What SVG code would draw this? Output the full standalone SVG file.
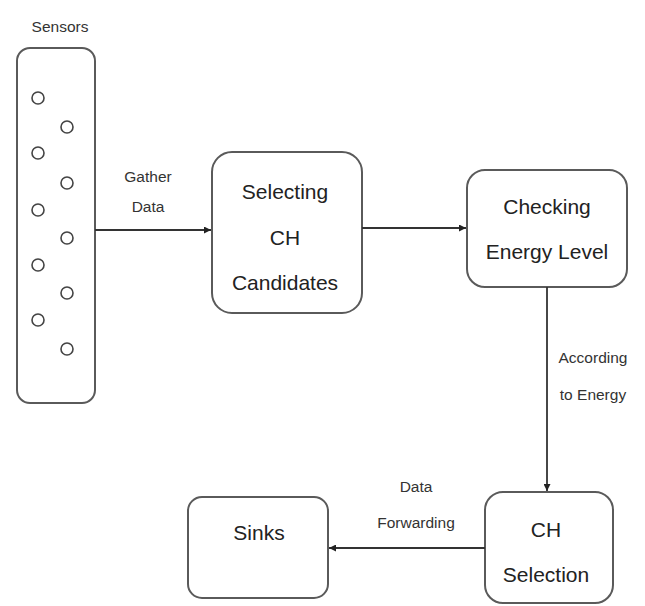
<svg xmlns="http://www.w3.org/2000/svg" width="645" height="606" viewBox="0 0 645 606">
<style>
.box{fill:#fff;stroke:#5a5a5a;stroke-width:2}
.dot{fill:#fff;stroke:#444;stroke-width:1.6}
.lbl{font-family:"Liberation Sans",Arial,sans-serif;font-size:21px;fill:#222;text-anchor:middle}
.sm{font-family:"Liberation Sans",Arial,sans-serif;font-size:15.5px;fill:#333;text-anchor:middle}
.edge{stroke:#333;stroke-width:1.8;fill:none;marker-end:url(#ah)}
</style>
<defs>
<marker id="ah" viewBox="0 0 10 10" refX="10" refY="5" markerWidth="7" markerHeight="7" orient="auto" markerUnits="userSpaceOnUse">
<path d="M0,0 L10,5 L0,10 z" fill="#222"/>
</marker>
</defs>
<rect width="645" height="606" fill="#fff"/>
<g id="sensors">
<text class="sm" x="60" y="32">Sensors</text>
<rect class="box" x="17" y="48" width="78" height="355" rx="13"/>
<circle class="dot" cx="38" cy="98" r="6"/>
<circle class="dot" cx="38" cy="153" r="6"/>
<circle class="dot" cx="38" cy="210" r="6"/>
<circle class="dot" cx="38" cy="265" r="6"/>
<circle class="dot" cx="38" cy="320" r="6"/>
<circle class="dot" cx="67" cy="127" r="6"/>
<circle class="dot" cx="67" cy="183" r="6"/>
<circle class="dot" cx="67" cy="238" r="6"/>
<circle class="dot" cx="67" cy="293" r="6"/>
<circle class="dot" cx="67" cy="349" r="6"/>
</g>
<g id="selecting">
<rect class="box" x="212" y="152" width="150" height="161" rx="20"/>
<text class="lbl" x="285" y="199">Selecting</text>
<text class="lbl" x="285" y="245">CH</text>
<text class="lbl" x="285" y="290">Candidates</text>
</g>
<g id="checking">
<rect class="box" x="467" y="170" width="160" height="117" rx="18"/>
<text class="lbl" x="547" y="214">Checking</text>
<text class="lbl" x="547" y="259">Energy Level</text>
</g>
<g id="chselection">
<rect class="box" x="485" y="492" width="128" height="111" rx="18"/>
<text class="lbl" x="546" y="537">CH</text>
<text class="lbl" x="546" y="582">Selection</text>
</g>
<g id="sinks">
<rect class="box" x="188" y="497" width="140" height="101" rx="14"/>
<text class="lbl" x="259" y="540">Sinks</text>
</g>
<g id="connectors">
<line class="edge" x1="95" y1="230" x2="211" y2="230"/>
<line class="edge" x1="362" y1="228" x2="466" y2="228"/>
<line class="edge" x1="547" y1="287" x2="547" y2="491"/>
<line class="edge" x1="485" y1="548" x2="329" y2="548"/>
<text class="sm" x="148" y="182">Gather</text>
<text class="sm" x="148" y="212">Data</text>
<text class="sm" x="593" y="363">According</text>
<text class="sm" x="593" y="400">to Energy</text>
<text class="sm" x="416" y="492">Data</text>
<text class="sm" x="416" y="528">Forwarding</text>
</g>
</svg>
